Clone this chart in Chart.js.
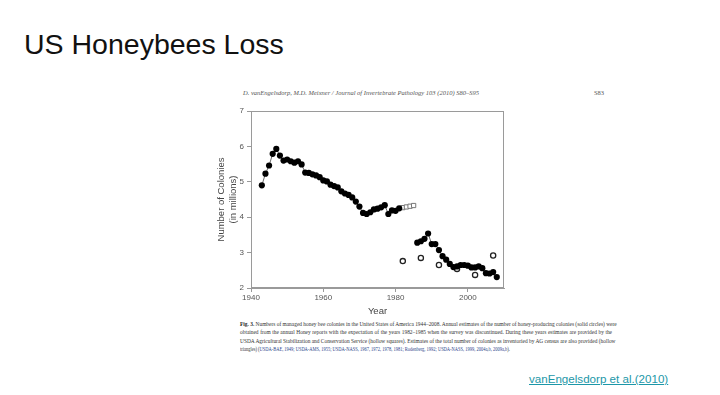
<!DOCTYPE html>
<html>
<head>
<meta charset="utf-8">
<script src="https://cdn.jsdelivr.net/npm/chart.js@4"></script>
<style>
  body { margin: 0; width: 720px; height: 395px; background: #fff; position: relative; overflow: hidden; font-family: "Liberation Sans", Arial, sans-serif; }
  .title { position: absolute; left: 24px; top: 28px; font-size: 28.5px; color: #111; }
  .head { position: absolute; left: 243px; top: 89px; font-family: "Liberation Serif", serif; font-style: italic; font-size: 6.5px; color: #555; }
  .page { position: absolute; left: 594px; top: 89px; font-family: "Liberation Serif", serif; font-size: 6.5px; color: #555; }
  #box { position: absolute; left: 216px; top: 100px; width: 299px; height: 217px; }
  .cap { position: absolute; left: 240px; width: 372px; font-family: "Liberation Serif", serif; font-size: 5.4px; color: #333; }
  .cap div { height: 8.4px; text-align: justify; text-align-last: justify; white-space: nowrap; }
  .cap div.last { text-align-last: left; transform: scaleX(0.83); transform-origin: left; }
  .cap b { color: #222; }
  .cap .ref { color: #2b3f8a; }
  .link { position: absolute; left: 529px; top: 372px; font-size: 11.6px; color: #1c97a8; text-decoration: underline; }
</style>
</head>
<body>
<div class="title">US Honeybees Loss</div>
<div class="head">D. vanEngelsdorp, M.D. Meixner / Journal of Invertebrate Pathology 103 (2010) S80–S95</div>
<div class="page">S83</div>
<div id="box"><canvas id="myChart"></canvas></div>
<div class="cap" style="top:321px">
  <div><b>Fig. 3.</b> Numbers of managed honey bee colonies in the United States of America 1944–2008. Annual estimates of the number of honey-producing colonies (solid circles) were</div>
  <div>obtained from the annual Honey reports with the expectation of the years 1982–1985 when the survey was discontinued. During these years estimates are provided by the</div>
  <div>USDA Agricultural Stabilization and Conservation Service (hollow squares). Estimates of the total number of colonies as inventoried by AG census are also provided (hollow</div>
  <div class="last">triangles) (<span class="ref">USDA-BAE, 1949; USDA-AMS, 1955; USDA-NASS, 1967, 1972, 1978, 1981; Rodenberg, 1992; USDA-NASS, 1999, 2004a,b, 2009a,b</span>).</div>
</div>
<div class="link">vanEngelsdorp et al.(2010)</div>

<script>
'use strict';

// annual honey reports (solid circles), null = survey stopped
var years = [1943,1944,1945,1946,1947,1948,1949,1950,1951,1952,1953,1954,1955,1956,1957,1958,1959,
  1960,1961,1962,1963,1964,1965,1966,1967,1968,1969,1970,1971,1972,1973,1974,1975,1976,1977,1978,1979,
  1980,1981,1982,1983,1984,1985,1986,1987,1988,1989,1990,1991,1992,1993,1994,1995,1996,1997,1998,1999,
  2000,2001,2002,2003,2004,2005,2006,2007,2008];
var colonies = [4.90,5.23,5.46,5.79,5.93,5.74,5.60,5.63,5.58,5.54,5.58,5.49,5.26,5.25,5.21,5.18,5.13,
  5.04,5.01,4.92,4.88,4.84,4.73,4.67,4.63,4.56,4.44,4.30,4.12,4.09,4.14,4.22,4.24,4.28,4.34,4.09,4.19,
  4.18,4.25,null,null,null,null,3.28,3.32,3.39,3.54,3.24,3.24,3.07,2.90,2.80,2.68,2.59,2.61,2.65,2.65,
  2.63,2.58,2.58,2.61,2.56,2.42,2.41,2.45,2.31];

// USDA ASCS estimates (hollow squares)
var ascsYears = [1982,1983,1984,1985];
var ascsColonies = [4.27,4.29,4.31,4.33];

// AG census (hollow circles)
var censusYears = [1982,1987,1992,1997,2002,2007];
var censusColonies = [2.76,2.85,2.65,2.54,2.37,2.92];

var xTicks = [1940,1960,1980,2000];
var yTicks = [2,3,4,5,6,7];

function pts(xs, ys) {
  return xs.map(function (x, i) { return {x: x, y: ys[i]}; });
}

// box around the plot
var frame = {
  id: 'frame',
  afterDraw: function (chart) {
    var a = chart.chartArea, c = chart.ctx;
    c.save();
    c.strokeStyle = '#9a9a9a';
    c.lineWidth = 1;
    c.strokeRect(a.left + 0.5, a.top + 0.5, a.right - a.left - 1, a.bottom - a.top - 1);
    c.restore();
  }
};

new Chart("myChart", {
  type: "scatter",
  data: {
    datasets: [{
      data: pts(years, colonies),
      showLine: true,
      spanGaps: false,
      borderColor: "#444",
      borderWidth: 0.8,
      backgroundColor: "#000",
      pointBorderColor: "#000",
      pointRadius: 3.1,
      pointBorderWidth: 0
    }, {
      data: pts(ascsYears, ascsColonies),
      showLine: true,
      borderColor: "#666",
      borderWidth: 0.8,
      pointStyle: "rect",
      backgroundColor: "#fff",
      pointBorderColor: "#777",
      pointBorderWidth: 1,
      pointRadius: 3
    }, {
      data: pts(censusYears, censusColonies),
      backgroundColor: "#fff",
      pointBorderColor: "#222",
      pointBorderWidth: 1.3,
      pointRadius: 2.6
    }]
  },
  options: {
    responsive: true,
    maintainAspectRatio: false,
    animation: false,
    layout: {padding: {top: 11, right: 11, left: 0, bottom: 0}},
    plugins: {legend: {display: false}, tooltip: {enabled: false}},
    scales: {
      x: {
        type: "linear",
        min: 1940,
        max: 2010,
        afterBuildTicks: function (s) { s.ticks = xTicks.map(function (v) { return {value: v}; }); },
        afterFit: function (s) { s.height = 29; },
        grid: {display: true, drawOnChartArea: false, tickLength: 4, color: "#999"},
        border: {color: "#9a9a9a"},
        ticks: {
          color: "#555", font: {family: "Liberation Sans", size: 8}, padding: 1, maxRotation: 0,
          callback: function (v) { return String(v); }
        },
        title: {display: true, text: "Year", color: "#444", font: {family: "Liberation Sans", size: 9.5}, padding: {top: 1, bottom: 0}}
      },
      y: {
        min: 2,
        max: 7,
        afterBuildTicks: function (s) { s.ticks = yTicks.map(function (v) { return {value: v}; }); },
        afterFit: function (s) { s.width = 35; },
        grid: {display: true, drawOnChartArea: false, tickLength: 4, color: "#999"},
        border: {color: "#9a9a9a"},
        ticks: {color: "#555", font: {family: "Liberation Sans", size: 8}, padding: 3},
        title: {display: true, text: ["Number of Colonies", "(in millions)"], color: "#444", font: {family: "Liberation Sans", size: 9.5, lineHeight: 1.2}, padding: 0}
      }
    }
  },
  plugins: [frame]
});
</script>
</body>
</html>
